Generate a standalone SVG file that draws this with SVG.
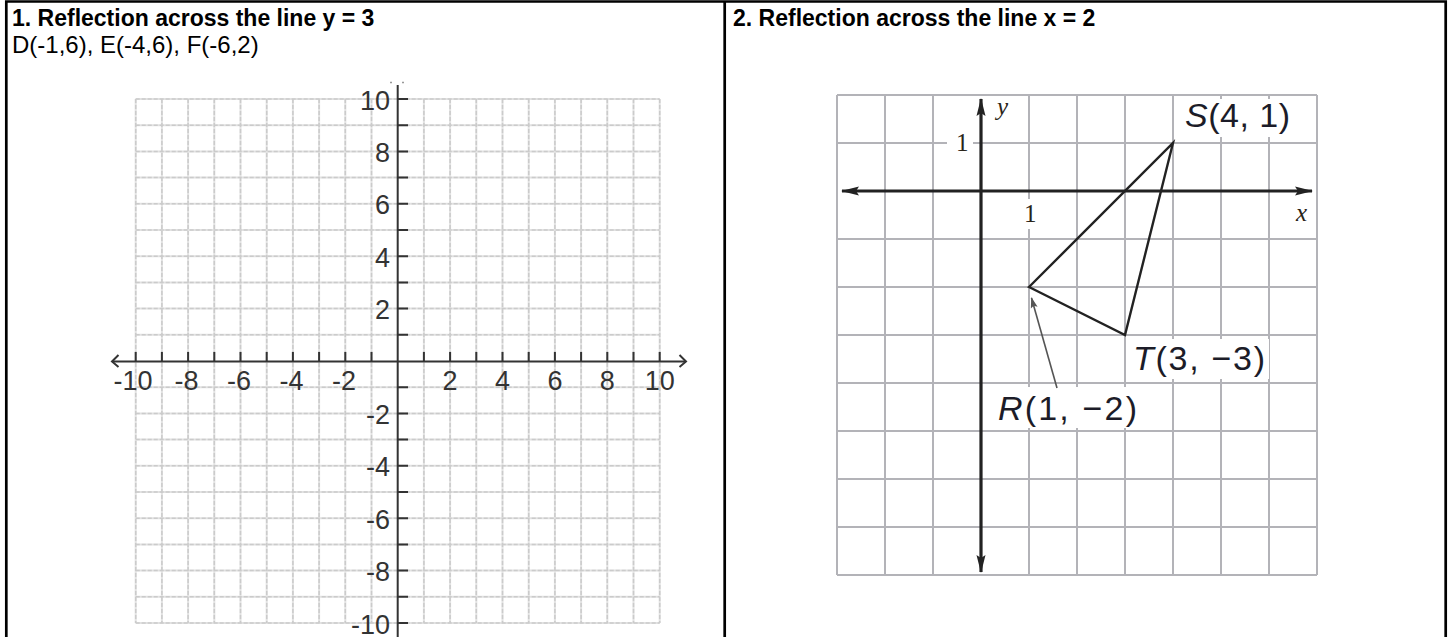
<svg xmlns="http://www.w3.org/2000/svg" width="1449" height="637" viewBox="0 0 1449 637">
<style>
.title{font-family:"Liberation Sans",Arial,sans-serif;font-size:23px;font-weight:bold;fill:#000}
.sub{font-family:"Liberation Sans",Arial,sans-serif;font-size:24px;fill:#000}
.num{font-family:"Liberation Sans",Arial,sans-serif;font-size:27px;fill:#333}
.lbl{font-family:"Liberation Sans",Arial,sans-serif;font-size:34px;fill:#1c1c28}
.ser{font-family:"Liberation Serif","Times New Roman",serif;font-size:25px;fill:#2a2418}
.gridL{fill:none;stroke:#e2e2e2;stroke-width:2}
.gridLd{fill:none;stroke:#cbcbcb;stroke-width:1.5;stroke-dasharray:4 2}
.gridR{fill:none;stroke:#b3b3b8;stroke-width:2}
.axL{fill:none;stroke:#333;stroke-width:2}
.axR{fill:none;stroke:#222;stroke-width:3.2}
</style>
<defs>
<marker id="ah" viewBox="-20 -6 22 12" refX="0" refY="0" markerWidth="22" markerHeight="12" markerUnits="userSpaceOnUse" orient="auto-start-reverse">
<path d="M1,0 L-17,-4.5 L-14,0 L-17,4.5 Z" fill="#222"/>
</marker>
<marker id="ahs" viewBox="-12 -5 13 10" refX="0" refY="0" markerWidth="13" markerHeight="10" markerUnits="userSpaceOnUse" orient="auto">
<path d="M1,0 L-10,-3.5 L-8,0 L-10,3.5 Z" fill="#555"/>
</marker>
</defs>
<rect x="0" y="0" width="1449" height="637" fill="#fff"/>

<g id="table">
<path d="M6.3 637V1.5H1445.7V637M724.7 1.5V637" fill="none" stroke="#000" stroke-width="2.7"/>
</g>

<g id="header1">
<text class="title" x="12" y="26">1. Reflection across the line y = 3</text>
<text class="sub" x="12" y="53">D(-1,6), E(-4,6), F(-6,2)</text>
</g>
<g id="header2">
<text class="title" x="733" y="26">2. Reflection across the line x = 2</text>
</g>

<g id="graph1">
<g id="graph1-grid">
<path class="gridL" d="M135.7 99V623M161.9 99V623M188.1 99V623M214.3 99V623M240.5 99V623M266.7 99V623M292.9 99V623M319.1 99V623M345.3 99V623M371.5 99V623M423.9 99V623M450.1 99V623M476.3 99V623M502.5 99V623M528.7 99V623M554.9 99V623M581.1 99V623M607.3 99V623M633.5 99V623M659.7 99V623M135.7 99H659.7M135.7 125.2H659.7M135.7 151.4H659.7M135.7 177.6H659.7M135.7 203.8H659.7M135.7 230H659.7M135.7 256.2H659.7M135.7 282.4H659.7M135.7 308.6H659.7M135.7 334.8H659.7M135.7 387.2H659.7M135.7 413.4H659.7M135.7 439.6H659.7M135.7 465.8H659.7M135.7 492H659.7M135.7 518.2H659.7M135.7 544.4H659.7M135.7 570.6H659.7M135.7 596.8H659.7M135.7 623H659.7"/>
<path class="gridLd" d="M135.7 99V623M161.9 99V623M188.1 99V623M214.3 99V623M240.5 99V623M266.7 99V623M292.9 99V623M319.1 99V623M345.3 99V623M371.5 99V623M423.9 99V623M450.1 99V623M476.3 99V623M502.5 99V623M528.7 99V623M554.9 99V623M581.1 99V623M607.3 99V623M633.5 99V623M659.7 99V623M135.7 99H659.7M135.7 125.2H659.7M135.7 151.4H659.7M135.7 177.6H659.7M135.7 203.8H659.7M135.7 230H659.7M135.7 256.2H659.7M135.7 282.4H659.7M135.7 308.6H659.7M135.7 334.8H659.7M135.7 387.2H659.7M135.7 413.4H659.7M135.7 439.6H659.7M135.7 465.8H659.7M135.7 492H659.7M135.7 518.2H659.7M135.7 544.4H659.7M135.7 570.6H659.7M135.7 596.8H659.7M135.7 623H659.7"/>
</g>
<g id="graph1-axes">
<path class="axL" d="M112 361.5H686M397.7 85V637"/>
<path class="axL" d="M118.5 355L112 361.5L118.5 367M679.5 355L686 361.5L679.5 367"/>
<path d="M390 82.5h2M402 82.5h2" stroke="#999" stroke-width="1.5"/>
<path class="axL" d="M135.7 352V361.5M161.9 352V361.5M188.1 352V361.5M214.3 352V361.5M240.5 352V361.5M266.7 352V361.5M292.9 352V361.5M319.1 352V361.5M345.3 352V361.5M371.5 352V361.5M423.9 352V361.5M450.1 352V361.5M476.3 352V361.5M502.5 352V361.5M528.7 352V361.5M554.9 352V361.5M581.1 352V361.5M607.3 352V361.5M633.5 352V361.5M659.7 352V361.5M397.7 99H408M397.7 125.2H408M397.7 151.4H408M397.7 177.6H408M397.7 203.8H408M397.7 230H408M397.7 256.2H408M397.7 282.4H408M397.7 308.6H408M397.7 334.8H408M397.7 387.2H408M397.7 413.4H408M397.7 439.6H408M397.7 465.8H408M397.7 492H408M397.7 518.2H408M397.7 544.4H408M397.7 570.6H408M397.7 596.8H408M397.7 623H408"/>
</g>
<g id="graph1-labels" class="num">
<g text-anchor="end">
<text x="390" y="109.5">10</text>
<text x="390" y="161.9">8</text>
<text x="390" y="214.3">6</text>
<text x="390" y="266.7">4</text>
<text x="390" y="319.1">2</text>
<text x="390" y="423.9">-2</text>
<text x="390" y="476.3">-4</text>
<text x="390" y="528.7">-6</text>
<text x="390" y="581.1">-8</text>
<text x="390" y="633.5">-10</text>
</g>
<g text-anchor="middle">
<text x="133" y="390">-10</text>
<text x="186.5" y="390">-8</text>
<text x="239" y="390">-6</text>
<text x="291.5" y="390">-4</text>
<text x="344" y="390">-2</text>
<text x="450.1" y="390">2</text>
<text x="502.5" y="390">4</text>
<text x="554.9" y="390">6</text>
<text x="607.3" y="390">8</text>
<text x="659.7" y="390">10</text>
</g>
</g>
</g>

<g id="graph2">
<g id="graph2-grid">
<path class="gridR" d="M837 95V575M885 95V575M933 95V575M1029 95V575M1077 95V575M1125 95V575M1173 95V575M1221 95V575M1269 95V575M1317 95V575M837 95H1317M837 143H1317M837 239H1317M837 287H1317M837 335H1317M837 383H1317M837 431H1317M837 479H1317M837 527H1317M837 575H1317"/>
</g>
<g id="graph2-axes">
<line class="axR" x1="842" y1="191" x2="1312" y2="191" marker-start="url(#ah)" marker-end="url(#ah)"/>
<line class="axR" x1="981" y1="99" x2="981" y2="572" marker-start="url(#ah)" marker-end="url(#ah)"/>
</g>
<g id="triangle-RST">
<polygon points="1029,287 1173,143 1125,335" fill="none" stroke="#222" stroke-width="2.4" stroke-linejoin="miter"/>
</g>
<g id="label-backgrounds" fill="#fff">
<rect x="947" y="130" width="26" height="28"/>
<rect x="1019" y="199" width="22" height="30"/>
<rect x="1182" y="99" width="112" height="38"/>
<rect x="1130" y="339" width="139" height="40"/>
<rect x="995" y="387" width="145" height="41"/>
</g>
<g id="axis-labels" class="ser">
<text x="997" y="115" font-style="italic">y</text>
<text x="956" y="151">1</text>
<text x="1024" y="222">1</text>
<text x="1296" y="221" font-style="italic">x</text>
</g>
<g id="node-S">
<text class="lbl" x="1185" y="127" textLength="105" lengthAdjust="spacing"><tspan font-style="italic">S</tspan>(4, 1)</text>
</g>
<g id="node-T">
<text class="lbl" x="1133" y="370" textLength="132" lengthAdjust="spacing"><tspan font-style="italic">T</tspan>(3, −3)</text>
</g>
<g id="node-R">
<text class="lbl" x="998" y="420" textLength="139" lengthAdjust="spacing"><tspan font-style="italic">R</tspan>(1, −2)</text>
</g>
<g id="connectors">
<line x1="1057" y1="388" x2="1031.5" y2="298" stroke="#555" stroke-width="1.6" marker-end="url(#ahs)"/>
</g>
</g>
</svg>
